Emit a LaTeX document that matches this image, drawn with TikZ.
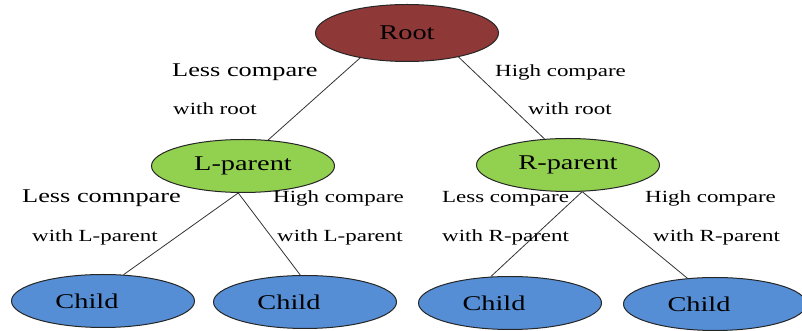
\documentclass[tikz,border=0pt]{standalone}
\usepackage{fontspec}
\setmainfont{Liberation Serif}[FakeStretch=1.35]
\usetikzlibrary{shapes.geometric}
\definecolor{rootred}{RGB}{142,56,56}
\definecolor{parentgreen}{RGB}{146,208,80}
\definecolor{childblue}{RGB}{85,142,213}
\tikzset{
  tnode/.style={ellipse, draw=black!85, line width=1pt, minimum width=183pt,
    minimum height=53pt, inner sep=0pt, font=\fontsize{21}{24}\selectfont},
  rootnode/.style={tnode, fill=rootred, minimum height=57pt},
  parentnode/.style={tnode, fill=parentgreen},
  childnode/.style={tnode, fill=childblue, execute at begin node={\hspace*{-32pt}}},
  branch/.style={draw=black!80, line width=0.8pt},
  cmp/.style={anchor=base west, inner sep=0pt, font=\fontsize{17}{20}\selectfont},
  cmpbig/.style={cmp, font=\fontsize{19.5}{22}\selectfont},
}
\begin{document}
\begin{tikzpicture}[x=1pt,y=1pt]
  \useasboundingbox (0,0) rectangle (802,331);

  % Root and the two parents
  \node[rootnode] (root) at (407,298) {Root};
  \node[parentnode] (lpar) at (243,165) {L-parent};
  \node[parentnode] (rpar) at (568,166) {R-parent};

  % Children (text sits a bit left of centre)
  \node[childnode] (c1) at (103,30) {Child};
  \node[childnode] (c2) at (305,29) {Child};
  \node[childnode] (c3) at (510,28) {Child};
  \node[childnode] (c4) at (715,27) {Child};

  % Branches
  \draw[branch] (root.208) -- (lpar.46);
  \draw[branch] (root.335) -- (rpar.132);
  \draw[branch] (lpar.260) -- (c1.52);
  \draw[branch] (lpar.260) -- (c2.100);
  \draw[branch] (rpar.298) -- (c3.126);
  \draw[branch] (rpar.298) -- (c4.137);

  % Labels at the root
  \node[cmpbig] (lr1) at (172,254) {Less compare};
  \node[cmp] (lr2) at (173,216) {with root};
  \node[cmp] (hr1) at (495,254) {High compare};
  \node[cmp] (hr2) at (528,216) {with root};

  % Labels at L-parent
  \node[cmpbig] (ll1) at (22,128) {Less comnpare};
  \node[cmp] (ll2) at (32,89) {with L-parent};
  \node[cmp] (hl1) at (273,128) {High compare};
  \node[cmp] (hl2) at (277,89) {with L-parent};

  % Labels at R-parent
  \node[cmp] (lq1) at (442,128) {Less compare};
  \node[cmp] (lq2) at (442,89) {with R-parent};
  \node[cmp] (hq1) at (645,128) {High compare};
  \node[cmp] (hq2) at (653,89) {with R-parent};
\end{tikzpicture}
\end{document}
